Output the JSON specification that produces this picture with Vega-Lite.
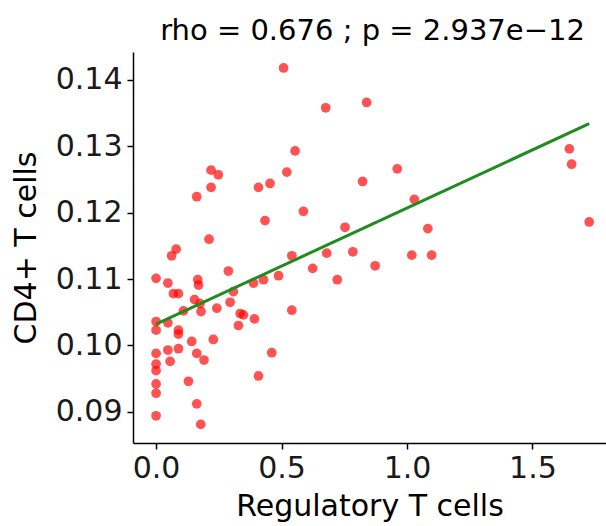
{
  "$schema": "https://vega.github.io/schema/vega-lite/v6.json",
  "autosize": "none",
  "padding": {"left": 133, "top": 52, "right": 0, "bottom": 83},
  "width": 473,
  "height": 391,
  "background": "white",
  "title": {"text": "rho = 0.676 ; p = 2.937e−12", "font": "DejaVu Sans", "fontSize": 29, "fontWeight": "normal", "color": "black", "anchor": "middle", "offset": 6, "dx": 3},
  "datasets": {
    "points": [
      {"treg": 0.508, "cd4": 0.1418}, {"treg": 0.219, "cd4": 0.1264}, {"treg": 0.248, "cd4": 0.1257},
      {"treg": 0.219, "cd4": 0.1238}, {"treg": 0.162, "cd4": 0.1224}, {"treg": 0.408, "cd4": 0.1238},
      {"treg": 0.454, "cd4": 0.1244}, {"treg": 0.521, "cd4": 0.1261}, {"treg": 0.434, "cd4": 0.1188},
      {"treg": 0.211, "cd4": 0.1160}, {"treg": 0.080, "cd4": 0.1145}, {"treg": 0.062, "cd4": 0.1135},
      {"treg": 0.676, "cd4": 0.1358}, {"treg": 0.839, "cd4": 0.1366}, {"treg": 0.554, "cd4": 0.1293},
      {"treg": 0.961, "cd4": 0.1266}, {"treg": 0.823, "cd4": 0.1247}, {"treg": 0.587, "cd4": 0.1202},
      {"treg": 1.029, "cd4": 0.1220}, {"treg": 0.753, "cd4": 0.1178}, {"treg": 1.083, "cd4": 0.1176},
      {"treg": 0.541, "cd4": 0.1135}, {"treg": 0.680, "cd4": 0.1139}, {"treg": 0.784, "cd4": 0.1141},
      {"treg": 1.019, "cd4": 0.1136}, {"treg": 1.098, "cd4": 0.1136}, {"treg": 0.624, "cd4": 0.1116},
      {"treg": 0.873, "cd4": 0.1120}, {"treg": 0.722, "cd4": 0.1099}, {"treg": 0.488, "cd4": 0.1105},
      {"treg": 0.541, "cd4": 0.1053}, {"treg": 1.647, "cd4": 0.1296}, {"treg": 1.656, "cd4": 0.1273},
      {"treg": 1.726, "cd4": 0.1186}, {"treg": 0.0, "cd4": 0.1101}, {"treg": 0.047, "cd4": 0.1094},
      {"treg": 0.166, "cd4": 0.1099}, {"treg": 0.169, "cd4": 0.1091}, {"treg": 0.288, "cd4": 0.1112},
      {"treg": 0.069, "cd4": 0.1078}, {"treg": 0.089, "cd4": 0.1078}, {"treg": 0.153, "cd4": 0.1069},
      {"treg": 0.109, "cd4": 0.1052}, {"treg": 0.179, "cd4": 0.1051}, {"treg": 0.175, "cd4": 0.1063},
      {"treg": 0.242, "cd4": 0.1056}, {"treg": 0.295, "cd4": 0.1065}, {"treg": 0.308, "cd4": 0.1081},
      {"treg": 0.335, "cd4": 0.1048}, {"treg": 0.348, "cd4": 0.1046}, {"treg": 0.328, "cd4": 0.1030},
      {"treg": 0.392, "cd4": 0.1040}, {"treg": 0.388, "cd4": 0.1094}, {"treg": 0.428, "cd4": 0.1099},
      {"treg": 0.0, "cd4": 0.1036}, {"treg": 0.0, "cd4": 0.1023}, {"treg": 0.047, "cd4": 0.1034},
      {"treg": 0.089, "cd4": 0.1023}, {"treg": 0.089, "cd4": 0.1017}, {"treg": 0.142, "cd4": 0.1006},
      {"treg": 0.228, "cd4": 0.1009}, {"treg": 0.0, "cd4": 0.0988}, {"treg": 0.047, "cd4": 0.0993},
      {"treg": 0.089, "cd4": 0.0995}, {"treg": 0.162, "cd4": 0.0988}, {"treg": 0.056, "cd4": 0.0976},
      {"treg": 0.0, "cd4": 0.0972}, {"treg": 0.191, "cd4": 0.0978}, {"treg": 0.0, "cd4": 0.0962},
      {"treg": 0.461, "cd4": 0.0989}, {"treg": 0.408, "cd4": 0.0954}, {"treg": 0.129, "cd4": 0.0946},
      {"treg": 0.0, "cd4": 0.0942}, {"treg": 0.0, "cd4": 0.0928}, {"treg": 0.162, "cd4": 0.0912},
      {"treg": 0.0, "cd4": 0.0894}, {"treg": 0.178, "cd4": 0.0881}
    ],
    "fit": [
      {"treg": 0.0, "cd4": 0.1032},
      {"treg": 1.726, "cd4": 0.1334}
    ]
  },
  "encoding": {
    "x": {"field": "treg", "type": "quantitative", "scale": {"domain": [-0.092, 1.793], "nice": false, "zero": false},
      "axis": {"title": "Regulatory T cells", "values": [0, 0.5, 1, 1.5], "format": ".1f"}},
    "y": {"field": "cd4", "type": "quantitative", "scale": {"domain": [0.0853, 0.1442], "nice": false, "zero": false},
      "axis": {"title": "CD4+ T cells", "values": [0.09, 0.10, 0.11, 0.12, 0.13, 0.14], "format": ".2f"}}
  },
  "layer": [
    {
      "data": {"name": "points"},
      "mark": {"type": "circle", "size": 95, "color": "#FF0000", "opacity": 0.68, "clip": false}
    },
    {
      "data": {"name": "fit"},
      "mark": {"type": "line", "color": "#1E8C1E", "strokeWidth": 3}
    }
  ],
  "config": {
    "view": {"stroke": null},
    "axis": {
      "grid": false,
      "domainColor": "black",
      "domainWidth": 1.5,
      "tickColor": "black",
      "tickWidth": 1.5,
      "tickSize": 6,
      "labelFont": "DejaVu Sans",
      "labelFontSize": 30,
      "labelColor": "#1a1a1a",
      "titleFont": "DejaVu Sans",
      "titleFontSize": 30,
      "titleFontWeight": "normal",
      "titleColor": "black"
    },
    "axisX": {"labelPadding": 4, "titlePadding": 8},
    "axisY": {"labelPadding": 5, "titlePadding": 14}
  }
}
